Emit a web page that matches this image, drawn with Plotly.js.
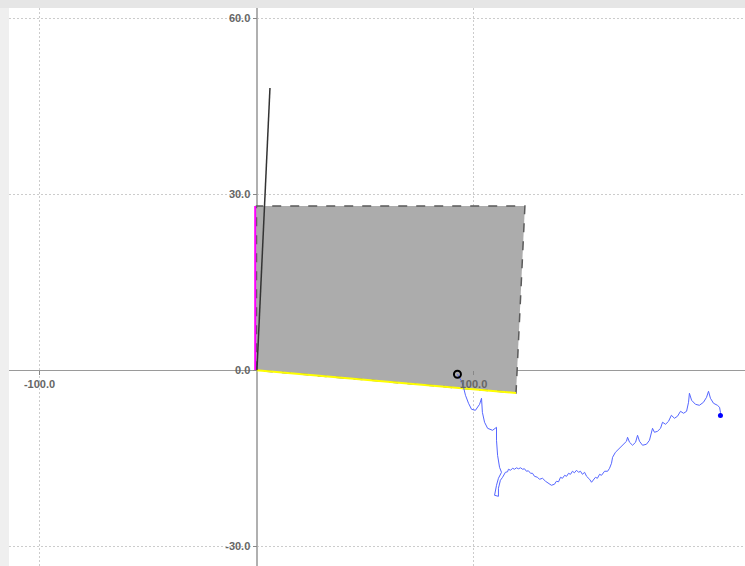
<!DOCTYPE html>
<html>
<head>
<meta charset="utf-8">
<script src="https://cdn.plot.ly/plotly-3.0.1.min.js"></script>
<style>html,body{margin:0;padding:0;background:#efefef;}#chart{width:745px;height:566px;}</style>
</head>
<body>
<div id="chart"></div>
<script>
// Data
const polygonX = [0, 0, 123.7, 119.6, 0];
const polygonY = [0, 28.0, 28.0, -3.87, 0];
const yellowX = [0, 119.6];
const yellowY = [0, -3.87];
const magentaX = [-0.6, -0.6];
const magentaY = [0, 28.0];
const blackX = [0.2, 6.2];
const blackY = [0, 48.1];
const startX = [92.6];
const startY = [-0.68];
const pathX = [92.6, 93.5, 94.5, 95.4, 96.3, 97.7, 99.1, 100.9, 102.8, 103.7,
  104.1, 105.1, 106.5, 108.8, 110.6, 110.6, 111.1, 112.0, 112.9,
  111.5, 110.6, 109.7, 111.5, 111.5, 112.4,
  113.4, 114.3, 114.7, 115.7, 116.1, 117.1, 118.0, 118.9, 119.8, 120.7, 121.7, 122.6, 123.5, 124.4, 125.3, 126.3, 127.2, 128.1, 129.5, 130.4, 131.8, 133.2, 134.6, 135.9, 137.3, 138.2, 139.2, 140.1, 141.0, 142.0, 142.9, 143.8, 144.7, 145.6, 146.5, 147.5, 148.4, 149.3, 150.2, 151.2, 152.1, 153.5, 154.4, 155.3, 156.2, 157.1, 158.1, 159.0, 160.4, 161.8, 162.7, 163.6, 164.1,
  165.4, 167.3, 169.1, 170.5, 171.0, 171.9, 173.3, 174.7, 175.6, 176.5, 177.9, 179.7, 181.1, 182.5, 183.4, 184.8, 186.2, 187.1, 188.5, 189.9, 191.2, 192.6, 194.0, 195.4, 196.8, 198.2, 199.1, 199.5, 200.5, 202.3, 204.1, 206.0, 207.4, 208.3, 209.2, 210.6, 212.4, 213.4, 213.8, 213.8];
const pathY = [-0.68, -1.19, -1.87, -2.90, -4.26, -5.62, -6.65, -6.82, -5.80, -4.77,
  -7.16, -8.86, -9.89, -10.23, -9.72, -11.93, -14.49, -16.53, -17.39,
  -18.41, -19.60, -21.31, -21.48, -20.11, -18.75,
  -18.24, -17.73, -17.39, -17.30, -16.87, -17.04, -16.70, -16.87, -16.62, -16.79, -16.62, -16.87, -16.79, -17.21, -17.13, -17.56, -17.56, -18.07, -18.24, -18.58, -18.41, -18.92, -19.26, -19.60, -19.43, -18.92, -19.01, -18.24, -18.41, -17.90, -18.07, -17.56, -17.73, -17.21, -17.47, -17.04, -17.39, -17.21, -17.73, -17.39, -18.07, -18.58, -19.09, -18.75, -18.24, -18.41, -17.73, -17.90, -17.21, -17.21, -16.70, -15.85, -14.83,
  -13.98, -13.29, -12.78, -12.10, -11.42, -12.27, -12.78, -12.27, -11.08, -12.10, -12.78, -12.61, -11.93, -9.89, -10.57, -10.40, -9.89, -8.86, -9.20, -8.69, -7.67, -8.18, -7.84, -6.99, -7.33, -6.99, -5.45, -3.92, -5.11, -5.80, -5.97, -5.45, -4.60, -3.58, -4.77, -5.62, -5.97, -6.31, -7.16, -7.84];
const endX = [213.8];
const endY = [-7.7];
const xTicks = [-100, 100];
const yTicks = [-30, 0, 30, 60];

const xRange = [-114.06, 225.12];
const yRange = [-33.36, 61.75];

const traces = [
  {x: polygonX, y: polygonY, mode: 'lines', fill: 'toself', fillcolor: '#acacac',
   line: {color: '#5a5a5a', width: 1.5, dash: 'dash'}, hoverinfo: 'skip'},
  {x: yellowX, y: yellowY, mode: 'lines', line: {color: '#ffff00', width: 2}},
  {x: magentaX, y: magentaY, mode: 'lines', line: {color: '#ff00ff', width: 2}},
  {x: blackX, y: blackY, mode: 'lines', line: {color: '#333333', width: 1.5}},
  {x: pathX, y: pathY, mode: 'lines', line: {color: '#5566ff', width: 1}},
  {x: endX, y: endY, mode: 'markers', marker: {color: '#0000ff', size: 5, symbol: 'circle'}},
  {x: startX, y: startY, mode: 'markers', marker: {color: 'rgba(0,0,0,0)', size: 7, line: {color: '#000', width: 2}}}
];

const xZeroFrac = (0 - yRange[0]) / (yRange[1] - yRange[0]);
const yZeroFrac = (0 - xRange[0]) / (xRange[1] - xRange[0]);

const layout = {
  width: 745, height: 566,
  margin: {l: 9, r: 0, t: 8, b: 0, pad: 0},
  paper_bgcolor: '#efefef',
  plot_bgcolor: '#ffffff',
  showlegend: false,
  font: {family: 'Liberation Sans, Arial, sans-serif', size: 11, color: '#666'},
  xaxis: {
    range: xRange, tickvals: xTicks, ticktext: xTicks.map(v => v.toFixed(1)),
    showgrid: true, gridcolor: '#cccccc', griddash: '2px,2px', gridwidth: 1,
    zeroline: true, zerolinecolor: '#b0b0b0', zerolinewidth: 2,
    anchor: 'free', position: xZeroFrac, side: 'bottom',
    ticks: 'outside', ticklen: 4, tickcolor: '#888', showline: false,
    tickfont: {size: 11, color: '#666', family: 'Liberation Sans, Arial, sans-serif', weight: 'bold'}
  },
  yaxis: {
    range: yRange, tickvals: yTicks, ticktext: yTicks.map(v => v.toFixed(1)),
    showgrid: true, gridcolor: '#cccccc', griddash: '2px,2px', gridwidth: 1,
    zeroline: true, zerolinecolor: '#9a9a9a', zerolinewidth: 1,
    anchor: 'free', position: yZeroFrac, side: 'left',
    ticks: 'outside', ticklen: 4, tickcolor: '#888', showline: false,
    tickfont: {size: 11, color: '#666', family: 'Liberation Sans, Arial, sans-serif', weight: 'bold'}
  },
  shapes: [
    {type: 'rect', xref: 'paper', yref: 'paper', x0: -0.02, x1: 1.01, y0: 1.0, y1: 1.02,
     fillcolor: '#e6e6e6', line: {width: 0}, layer: 'below'}
  ]
};

Plotly.newPlot('chart', traces, layout, {displayModeBar: false, staticPlot: true});
</script>
</body>
</html>
